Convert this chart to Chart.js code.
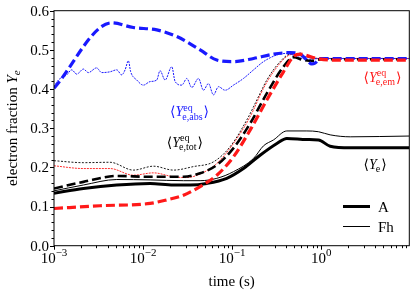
<!DOCTYPE html>
<html lang="en">
<head>
<meta charset="UTF-8">
<title>Electron fraction</title>
<script src="https://cdn.jsdelivr.net/npm/chart.js"></script>
<style>
  html, body { margin: 0; padding: 0; background: #fff; }
  #wrap { width: 415px; height: 294px; }
</style>
</head>
<body>
<div id="wrap"><canvas id="yeChart" width="415" height="294"></canvas></div>
<script>
// time axis (s) and tick labels
const xMin = 0.001, xMax = 9.75;
const yMin = 0, yMax = 0.6;
const xDecades = [-3, -2, -1, 0];
const yLabels = ["0.0", "0.1", "0.2", "0.3", "0.4", "0.5", "0.6"];

// A: <Ye,abs eq>
const tAbsA  = [0.001, 0.00445, 0.00778, 0.01425, 0.0239, 0.0437, 0.0673, 0.1035, 0.174, 0.291, 0.449, 0.581, 0.69, 0.785, 0.85, 0.975, 2.12, 9.75];
const yeAbsA = [0.402, 0.569, 0.557, 0.551, 0.534, 0.500, 0.474, 0.470, 0.478, 0.489, 0.493, 0.489, 0.474, 0.464, 0.466, 0.478, 0.478, 0.478];
// Fh: <Ye,abs eq>
const tAbsF  = [0.001, 0.00112, 0.001387, 0.00158, 0.0018, 0.00214, 0.00243, 0.00301, 0.00343, 0.00426, 0.00506, 0.00576, 0.00628, 0.00684, 0.00726, 0.00849, 0.01008, 0.012, 0.01425, 0.0155, 0.01767, 0.021, 0.0229, 0.0272, 0.031, 0.0352, 0.0419, 0.0476, 0.0542, 0.0617, 0.0702, 0.0834, 0.1035, 0.134, 0.174, 0.225, 0.318, 0.411, 0.533, 0.69, 1.0, 9.75];
const yeAbsF = [0.406, 0.423, 0.436, 0.449, 0.438, 0.451, 0.442, 0.454, 0.442, 0.444, 0.449, 0.436, 0.449, 0.472, 0.444, 0.423, 0.410, 0.419, 0.423, 0.447, 0.423, 0.457, 0.419, 0.410, 0.427, 0.404, 0.427, 0.397, 0.414, 0.385, 0.406, 0.397, 0.410, 0.427, 0.449, 0.470, 0.487, 0.491, 0.483, 0.476, 0.478, 0.478];
// A: <Ye,em eq>
const tEmA  = [0.001, 0.00329, 0.012, 0.01845, 0.0284, 0.0437, 0.0673, 0.1035, 0.159, 0.245, 0.377, 0.489, 0.581, 0.894, 1.38, 9.75];
const yeEmA = [0.095, 0.102, 0.108, 0.117, 0.129, 0.151, 0.180, 0.227, 0.295, 0.372, 0.444, 0.483, 0.489, 0.478, 0.474, 0.474];
// Fh: <Ye,em eq>
const tEmF  = [0.001, 0.00214, 0.00426, 0.00778, 0.0131, 0.0219, 0.031, 0.0437, 0.0673, 0.1035, 0.159, 0.225, 0.291, 0.411, 0.489, 0.69, 1.0, 9.75];
const yeEmF = [0.204, 0.197, 0.197, 0.180, 0.186, 0.176, 0.174, 0.183, 0.210, 0.261, 0.329, 0.402, 0.444, 0.483, 0.489, 0.481, 0.478, 0.478];
// A: <Ye,tot eq>
const tTotA  = [0.001, 0.00214, 0.00506, 0.012, 0.0284, 0.0437, 0.0673, 0.1035, 0.159, 0.245, 0.377, 0.489, 0.633, 0.82, 1.0, 9.75];
const yeTotA = [0.146, 0.163, 0.178, 0.176, 0.176, 0.185, 0.206, 0.249, 0.312, 0.389, 0.457, 0.481, 0.474, 0.472, 0.476, 0.476];
// Fh: <Ye,tot eq>
const tTotF  = [0.001, 0.00214, 0.00426, 0.00778, 0.0131, 0.0219, 0.0368, 0.0617, 0.095, 0.146, 0.206, 0.245, 0.346, 0.449, 0.69, 1.0, 9.75];
const yeTotF = [0.217, 0.212, 0.213, 0.193, 0.203, 0.193, 0.202, 0.214, 0.253, 0.321, 0.389, 0.423, 0.470, 0.489, 0.481, 0.478, 0.478];
// A: <Ye>
const tYeA  = [0.001, 0.00214, 0.00506, 0.012, 0.0219, 0.0338, 0.0519, 0.0871, 0.134, 0.206, 0.318, 0.411, 0.69, 0.933, 1.26, 2.12, 9.75];
const yeYeA = [0.134, 0.146, 0.155, 0.159, 0.155, 0.155, 0.159, 0.172, 0.197, 0.231, 0.261, 0.274, 0.271, 0.270, 0.254, 0.250, 0.250];
// Fh: <Ye>
const tYeF  = [0.001, 0.00214, 0.00506, 0.012, 0.0284, 0.0437, 0.0673, 0.1035, 0.174, 0.225, 0.291, 0.411, 0.69, 0.933, 1.26, 2.12, 9.75];
const yeYeF = [0.140, 0.155, 0.169, 0.168, 0.166, 0.166, 0.172, 0.189, 0.223, 0.255, 0.270, 0.293, 0.293, 0.291, 0.283, 0.278, 0.280];

const BLUE = "rgb(25,25,255)";
const RED = "rgb(255,25,25)";
const SERIF = "'Liberation Serif', 'DejaVu Serif', serif";

function pts(ts, ys) { return ts.map((t, i) => ({ x: t, y: ys[i] })); }

function line(data, color, width, dash) {
    return { data: data, borderColor: color, borderWidth: width, borderDash: dash,
             pointRadius: 0, fill: false, tension: 0.35, cubicInterpolationMode: "monotone" };
}

// text like <Y^sup_sub>
function drawBracketed(ctx, x, y, color, sup, sub, size) {
    ctx.save();
    ctx.fillStyle = color;
    ctx.textBaseline = "alphabetic";
    ctx.textAlign = "left";
    ctx.font = size + "px " + SERIF;
    ctx.fillText("\u27E8", x, y);
    x += ctx.measureText("\u27E8").width;
    ctx.font = "italic " + size + "px " + SERIF;
    ctx.fillText("Y", x, y);
    x += ctx.measureText("Y").width;
    const small = Math.round(size * 0.7);
    ctx.font = small + "px " + SERIF;
    let w = 0;
    if (sup) { ctx.fillText(sup, x, y - size * 0.42); w = ctx.measureText(sup).width; }
    ctx.fillText(sub, x - 1, y + size * 0.22);
    w = Math.max(w, ctx.measureText(sub).width - 1);
    x += w + 1;
    ctx.font = size + "px " + SERIF;
    ctx.fillText("\u27E9", x, y);
    ctx.restore();
}

const axesPlugin = {
    id: "axesPlugin",
    afterDraw(chart) {
        const ctx = chart.ctx, a = chart.chartArea;
        const xs = chart.scales.x, ys = chart.scales.y;
        ctx.save();
        ctx.strokeStyle = "#000";
        ctx.lineWidth = 1;
        ctx.strokeRect(a.left, a.top, a.right - a.left, a.bottom - a.top);

        // x ticks (outward)
        ctx.beginPath();
        xDecades.forEach(d => {
            for (let m = 1; m <= 9; m++) {
                const v = m * Math.pow(10, d);
                if (v > xMax) break;
                const px = Math.round(xs.getPixelForValue(v)) + 0.5;
                ctx.moveTo(px, a.bottom);
                ctx.lineTo(px, a.bottom + (m === 1 ? 4 : 2.5));
            }
        });
        // y ticks (outward)
        for (let i = 0; i <= 30; i++) {
            const v = i * 0.02;
            const py = Math.round(ys.getPixelForValue(v)) + 0.5;
            ctx.moveTo(a.left, py);
            ctx.lineTo(a.left - (i % 5 === 0 ? 4 : 2.5), py);
        }
        ctx.stroke();

        ctx.fillStyle = "#000";
        // y labels
        ctx.font = "15px " + SERIF;
        ctx.textAlign = "right";
        ctx.textBaseline = "middle";
        yLabels.forEach((lab, i) => {
            ctx.fillText(lab, a.left - 5, ys.getPixelForValue(i * 0.1) + 1);
        });
        // x labels 10^n
        ctx.textBaseline = "alphabetic";
        xDecades.forEach(d => {
            const px = xs.getPixelForValue(Math.pow(10, d));
            const exp = d === 0 ? "0" : "\u2212" + Math.abs(d);
            ctx.font = "15px " + SERIF;
            const wb = ctx.measureText("10").width;
            ctx.font = "11px " + SERIF;
            const we = ctx.measureText(exp).width;
            const x0 = px - (wb + we) / 2;
            ctx.font = "15px " + SERIF;
            ctx.textAlign = "left";
            ctx.fillText("10", x0, a.bottom + 17);
            ctx.font = "11px " + SERIF;
            ctx.fillText(exp, x0 + wb, a.bottom + 10);
        });
        // axis titles
        ctx.font = "15px " + SERIF;
        ctx.textAlign = "center";
        ctx.fillText("time (s)", (a.left + a.right) / 2, 286);

        ctx.save();
        ctx.translate(17, (a.top + a.bottom) / 2);
        ctx.rotate(-Math.PI / 2);
        ctx.font = "15px " + SERIF;
        const t1 = "electron fraction ";
        const w1 = ctx.measureText(t1).width;
        ctx.font = "italic 15px " + SERIF;
        const w2 = ctx.measureText("Y").width;
        ctx.font = "italic 11px " + SERIF;
        const w3 = ctx.measureText("e").width;
        let x0 = -(w1 + w2 + w3) / 2;
        ctx.textAlign = "left";
        ctx.font = "15px " + SERIF;
        ctx.fillText(t1, x0, 0);
        ctx.font = "italic 15px " + SERIF;
        ctx.fillText("Y", x0 + w1, 0);
        ctx.font = "italic 11px " + SERIF;
        ctx.fillText("e", x0 + w1 + w2, 3);
        ctx.restore();

        // legend
        ctx.lineWidth = 3;
        ctx.beginPath();
        ctx.moveTo(343, 206.5); ctx.lineTo(370, 206.5);
        ctx.stroke();
        ctx.lineWidth = 1;
        ctx.beginPath();
        ctx.moveTo(343, 226.5); ctx.lineTo(370, 226.5);
        ctx.stroke();
        ctx.font = "15px " + SERIF;
        ctx.textAlign = "left";
        ctx.fillText("A", 378, 212);
        ctx.fillText("Fh", 378, 232);

        // curve annotations, placed in data coordinates
        const at = (t, v) => [xs.getPixelForValue(t), ys.getPixelForValue(v)];
        let p = at(0.0201, 0.33);
        drawBracketed(ctx, p[0], p[1], BLUE, "eq", "e,abs", 14);
        p = at(0.0185, 0.252);
        drawBracketed(ctx, p[0], p[1], "#000", "eq", "e,tot", 14);
        p = at(2.99, 0.418);
        drawBracketed(ctx, p[0], p[1], RED, "eq", "e,em", 14);
        p = at(2.99, 0.196);
        drawBracketed(ctx, p[0], p[1], "#000", "", "e", 14);
        ctx.restore();
    }
};

new Chart(document.getElementById("yeChart"), {
    type: "line",
    data: {
        datasets: [
            line(pts(tEmA, yeEmA), RED, 3.2, [9, 4]),
            line(pts(tAbsA, yeAbsA), BLUE, 3.2, [9, 4]),
            line(pts(tTotA, yeTotA), "#000", 2.6, [9, 4]),
            line(pts(tYeA, yeYeA), "#000", 3, []),
            line(pts(tYeF, yeYeF), "#000", 1, []),
            line(pts(tAbsF, yeAbsF), BLUE, 1, [2, 1]),
            line(pts(tEmF, yeEmF), RED, 0.9, [2, 1]),
            line(pts(tTotF, yeTotF), "#000", 0.9, [2, 1.5])
        ]
    },
    options: {
        responsive: false,
        animation: false,
        layout: { padding: { left: 54, right: 5.7, top: 10.7, bottom: 48.3 } },
        plugins: { legend: { display: false }, tooltip: { enabled: false } },
        scales: {
            x: { type: "logarithmic", min: xMin, max: xMax, display: false },
            y: { type: "linear", min: yMin, max: yMax, display: false }
        }
    },
    plugins: [axesPlugin]
});
</script>
</body>
</html>
